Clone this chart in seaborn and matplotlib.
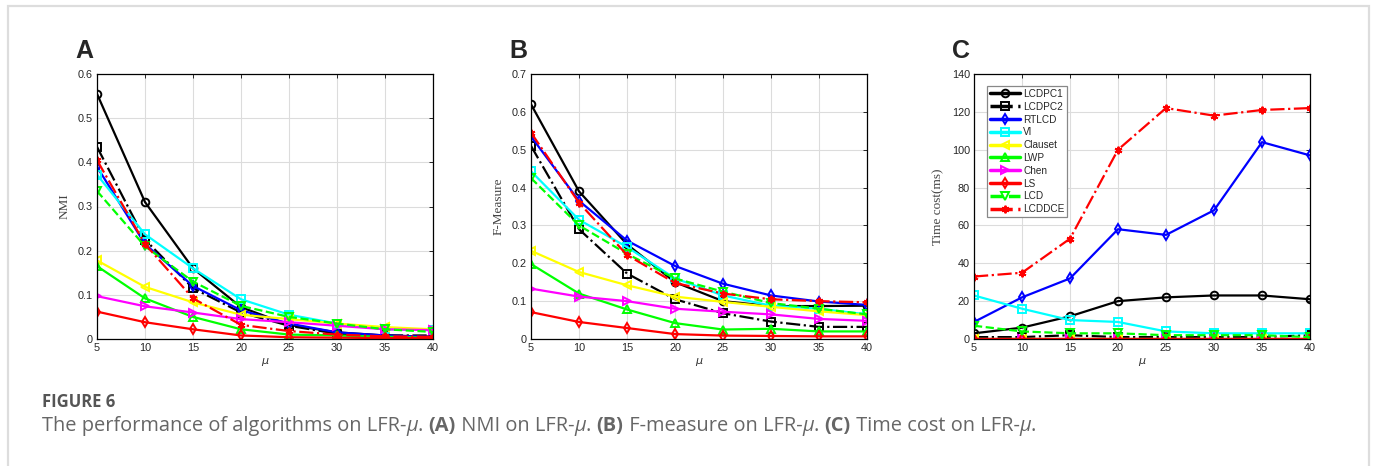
import matplotlib
matplotlib.use("Agg")
import matplotlib.pyplot as plt
import matplotlib.patches as mpatches
import numpy as np
import pandas as pd
import seaborn as sns

# ---- data ------------------------------------------------------------------
mu = [5, 10, 15, 20, 25, 30, 35, 40]
algorithms = ["LCDPC1", "LCDPC2", "RTLCD", "VI", "Clauset", "LWP", "Chen", "LS", "LCD", "LCDDCE"]

nmi_lcdpc1 = [0.555, 0.310, 0.160, 0.072, 0.032, 0.015, 0.008, 0.005]
nmi_lcdpc2 = [0.435, 0.225, 0.115, 0.060, 0.030, 0.012, 0.008, 0.008]
nmi_rtlcd = [0.390, 0.215, 0.120, 0.065, 0.035, 0.015, 0.008, 0.005]
nmi_vi = [0.372, 0.237, 0.160, 0.090, 0.055, 0.035, 0.022, 0.020]
nmi_clauset = [0.178, 0.118, 0.083, 0.055, 0.045, 0.035, 0.027, 0.022]
nmi_lwp = [0.165, 0.092, 0.050, 0.022, 0.010, 0.008, 0.005, 0.003]
nmi_chen = [0.097, 0.074, 0.060, 0.045, 0.038, 0.030, 0.022, 0.020]
nmi_ls = [0.062, 0.038, 0.022, 0.008, 0.004, 0.003, 0.002, 0.002]
nmi_lcd = [0.335, 0.210, 0.130, 0.075, 0.050, 0.035, 0.022, 0.016]
nmi_lcddce = [0.405, 0.215, 0.092, 0.032, 0.018, 0.010, 0.006, 0.005]

fm_lcdpc1 = [0.620, 0.390, 0.250, 0.150, 0.100, 0.087, 0.087, 0.088]
fm_lcdpc2 = [0.510, 0.290, 0.173, 0.105, 0.068, 0.046, 0.032, 0.032]
fm_rtlcd = [0.535, 0.365, 0.260, 0.193, 0.146, 0.115, 0.099, 0.090]
fm_vi = [0.443, 0.315, 0.243, 0.160, 0.115, 0.088, 0.080, 0.065]
fm_clauset = [0.233, 0.177, 0.142, 0.112, 0.098, 0.085, 0.073, 0.063]
fm_lwp = [0.198, 0.120, 0.078, 0.042, 0.025, 0.027, 0.020, 0.020]
fm_chen = [0.133, 0.112, 0.100, 0.080, 0.072, 0.065, 0.053, 0.048]
fm_ls = [0.071, 0.045, 0.029, 0.013, 0.009, 0.008, 0.007, 0.007]
fm_lcd = [0.425, 0.300, 0.225, 0.160, 0.125, 0.095, 0.080, 0.065]
fm_lcddce = [0.545, 0.360, 0.222, 0.148, 0.120, 0.105, 0.100, 0.097]

tc_lcdpc1 = [3, 6, 12, 20, 22, 23, 23, 21]
tc_lcdpc2 = [1, 1, 2, 1, 1, 1, 1, 2]
tc_rtlcd = [9, 22, 32, 58, 55, 68, 104, 97]
tc_vi = [23, 16, 10, 9, 4, 3, 3, 3]
tc_clauset = [0, 0, 0, 0, 0, 0, 0, 0]
tc_lwp = [0, 0, 0, 0, 0, 0, 0, 0]
tc_chen = [0, 0, 0, 0, 0, 0, 0, 0]
tc_ls = [0, 0, 0, 0, 0, 0, 0, 0]
tc_lcd = [7, 4, 3, 3, 2, 2, 2, 1]
tc_lcddce = [33, 35, 53, 100, 122, 118, 121, 122]

nmi_ticks = [0, 0.1, 0.2, 0.3, 0.4, 0.5, 0.6]
nmi_ticklabels = ["0", "0.1", "0.2", "0.3", "0.4", "0.5", "0.6"]
fm_ticks = [0, 0.1, 0.2, 0.3, 0.4, 0.5, 0.6, 0.7]
fm_ticklabels = ["0", "0.1", "0.2", "0.3", "0.4", "0.5", "0.6", "0.7"]
tc_ticks = [0, 20, 40, 60, 80, 100, 120, 140]
tc_ticklabels = ["0", "20", "40", "60", "80", "100", "120", "140"]

# ---- styling ---------------------------------------------------------------
STYLES = {
    "LCDPC1": dict(color="black", marker="o", linestyle="-"),
    "LCDPC2": dict(color="black", marker="s", linestyle="-."),
    "RTLCD": dict(color="#0000ff", marker="d", linestyle="-"),
    "VI": dict(color="#00ffff", marker="s", linestyle="-"),
    "Clauset": dict(color="#ffff00", marker="<", linestyle="-"),
    "LWP": dict(color="#00ff00", marker="^", linestyle="-"),
    "Chen": dict(color="#ff00ff", marker=">", linestyle="-"),
    "LS": dict(color="#ff0000", marker="d", linestyle="-"),
    "LCD": dict(color="#00ff00", marker="v", linestyle="--"),
    "LCDDCE": dict(color="#ff0000", marker=(6, 2, 0), linestyle="-."),
}

sns.set_style("whitegrid", {"grid.color": "#dcdcdc", "axes.edgecolor": "black",
                            "xtick.direction": "in", "ytick.direction": "in"})
plt.rcParams["font.family"] = ["Liberation Sans", "DejaVu Sans"]

fig = plt.figure(figsize=(13.75, 4.66), dpi=100)
W, H = 1375, 466
ax_w, ax_h = 336 / W, 265 / H
ax_bottom = 1 - 339 / H
lefts = [97 / W, 531 / W, 974 / W]

panels = [
    ([nmi_lcdpc1, nmi_lcdpc2, nmi_rtlcd, nmi_vi, nmi_clauset, nmi_lwp, nmi_chen, nmi_ls, nmi_lcd, nmi_lcddce],
     "NMI", nmi_ticks, nmi_ticklabels, "A"),
    ([fm_lcdpc1, fm_lcdpc2, fm_rtlcd, fm_vi, fm_clauset, fm_lwp, fm_chen, fm_ls, fm_lcd, fm_lcddce],
     "F-Measure", fm_ticks, fm_ticklabels, "B"),
    ([tc_lcdpc1, tc_lcdpc2, tc_rtlcd, tc_vi, tc_clauset, tc_lwp, tc_chen, tc_ls, tc_lcd, tc_lcddce],
     "Time cost(ms)", tc_ticks, tc_ticklabels, "C"),
]

for left, (series, ylabel, yticks, yticklabels, letter) in zip(lefts, panels):
    ax = fig.add_axes([left, ax_bottom, ax_w, ax_h])
    for name, values in zip(algorithms, series):
        st = STYLES[name]
        df = pd.DataFrame({"mu": mu, "value": values})
        sns.lineplot(data=df, x="mu", y="value", ax=ax, label=name,
                     color=st["color"], linestyle=st["linestyle"], marker=st["marker"],
                     markersize=5.5, markerfacecolor="none", markeredgecolor=st["color"],
                     markeredgewidth=1.4, linewidth=1.6, legend=False)
    ax.set_xlim(5, 40)
    ax.set_ylim(yticks[0], yticks[-1])
    ax.set_xticks(mu)
    ax.set_xticklabels([str(m) for m in mu])
    ax.set_yticks(yticks)
    ax.set_yticklabels(yticklabels)
    ax.tick_params(axis="both", labelsize=7.8, labelcolor="#262626", direction="in",
                   length=3, width=0.7, top=True, right=True, pad=3)
    for sp in ax.spines.values():
        sp.set_linewidth(0.9)
        sp.set_color("black")
    ax.grid(True, color="#dcdcdc", linewidth=0.8)
    ax.set_xlabel(r"$\mu$", fontsize=8, color="#333333", labelpad=2,
                  family=["Liberation Serif", "DejaVu Serif"])
    ax.set_ylabel(ylabel, fontsize=9.5, color="#444444", labelpad=5,
                  family=["Liberation Serif", "DejaVu Serif"])
    fig.text(left - 22 / W, 1 - 58 / H, letter, fontsize=18, fontweight="bold",
             va="baseline", ha="left")

    if letter == "C":
        leg = ax.legend(loc="upper left", bbox_to_anchor=(0.039, 0.955), borderaxespad=0,
                        fontsize=7.2, handlelength=3.0, labelspacing=0.28, borderpad=0.3,
                        handletextpad=0.3, fancybox=False, framealpha=1, edgecolor="#888888")
        leg.get_frame().set_linewidth(0.9)
        for line in leg.get_lines():
            line.set_linewidth(2.5)

# ---- outer border and caption ----------------------------------------------
border = mpatches.Rectangle((8 / W, -0.2), (1369 - 8) / W, 1.2 - 6 / H, transform=fig.transFigure,
                            fill=False, edgecolor="#dddddd", linewidth=1.6, clip_on=False)
fig.add_artist(border)

cap_font = ["Open Sans", "DejaVu Sans"]
fig.text(42 / W, 1 - 407 / H, "FIGURE 6", fontsize=12, fontweight="bold",
         color="#555555", family=cap_font, va="baseline")

pieces = [
    ("The performance of algorithms on LFR-", "normal", "normal"),
    ("μ", "normal", "italic"),
    (". ", "normal", "normal"),
    ("(A)", "bold", "normal"),
    (" NMI on LFR-", "normal", "normal"),
    ("μ", "normal", "italic"),
    (". ", "normal", "normal"),
    ("(B)", "bold", "normal"),
    (" F-measure on LFR-", "normal", "normal"),
    ("μ", "normal", "italic"),
    (". ", "normal", "normal"),
    ("(C)", "bold", "normal"),
    (" Time cost on LFR-", "normal", "normal"),
    ("μ", "normal", "italic"),
    (".", "normal", "normal"),
]
renderer = fig.canvas.get_renderer()
x_px = 42
for txt, weight, style in pieces:
    t = fig.text(x_px / W, 1 - 431 / H, txt, fontsize=14.4, fontweight=weight,
                 fontstyle=style, color="#666666", family=cap_font, va="baseline")
    x_px = t.get_window_extent(renderer).x1

fig.savefig("out.png", dpi=100)
